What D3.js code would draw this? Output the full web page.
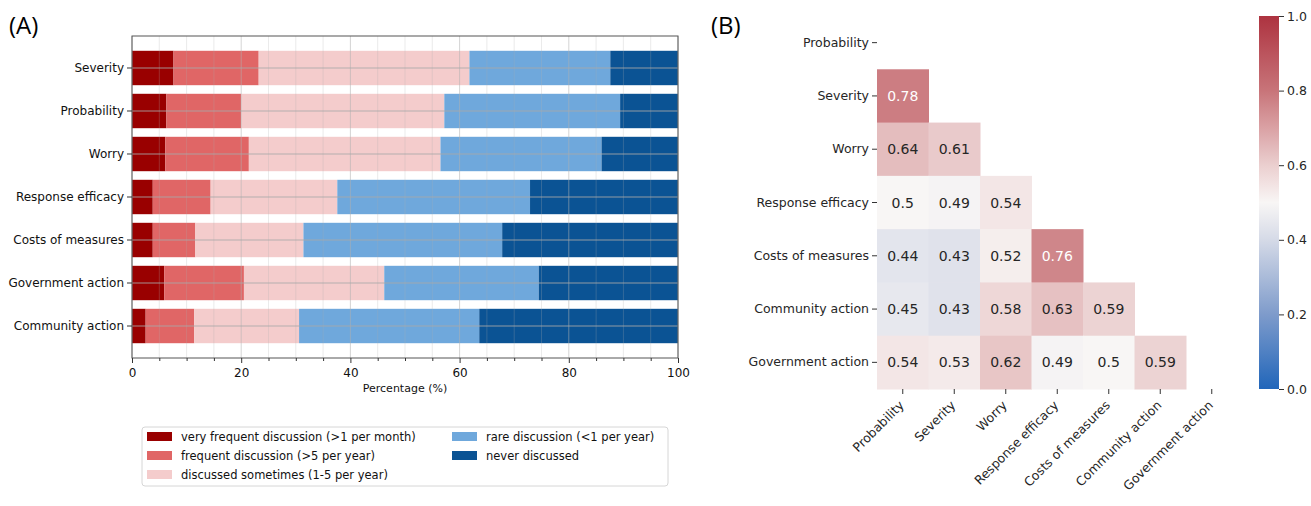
<!DOCTYPE html>
<html>
<head>
<meta charset="utf-8">
<script src="https://cdn.jsdelivr.net/npm/d3@7"></script>
<style>
  body { margin: 0; background: #fff; }
  svg { display: block; font-family: "DejaVu Sans", sans-serif; }
</style>
</head>
<body>
<svg id="chart" width="1311" height="506"></svg>
<script>
// ---- data: panel A (stacked shares, % of respondents)
let barCategories = ['Severity', 'Probability', 'Worry', 'Response efficacy', 'Costs of measures', 'Government action', 'Community action']
let veryFrequent = [7.6, 6.3, 6.1, 3.8, 3.8, 5.9, 2.5]
let frequent     = [15.6, 13.7, 15.3, 10.6, 7.8, 14.6, 8.9]
let sometimes    = [38.6, 37.2, 35.1, 23.2, 19.8, 25.7, 19.2]
let rare         = [25.8, 32.2, 29.5, 35.3, 36.4, 28.3, 33.0]
let never        = [12.4, 10.6, 14.0, 27.1, 32.2, 25.5, 36.4]
let seriesNames = [
    'very frequent discussion (>1 per month)',
    'frequent discussion (>5 per year)',
    'discussed sometimes (1-5 per year)',
    'rare discussion (<1 per year)',
    'never discussed'
]
let seriesColors = ['#990000', '#e06666', '#f4cccc', '#6fa8dc', '#0b5394']
let xTicks = [0, 20, 40, 60, 80, 100]

// ---- data: panel B (lower-triangle correlations)
let corrVars = ['Probability', 'Severity', 'Worry', 'Response efficacy', 'Costs of measures', 'Community action', 'Government action']
let corrRows = [
    [],
    [0.78],
    [0.64, 0.61],
    [0.5, 0.49, 0.54],
    [0.44, 0.43, 0.52, 0.76],
    [0.45, 0.43, 0.58, 0.63, 0.59],
    [0.54, 0.53, 0.62, 0.49, 0.5, 0.59]
]
let cbarTicks = [0, 0.2, 0.4, 0.6, 0.8, 1.0]

let svg = d3.select('#chart')

// ================= Panel A =================
let keys = ['vf', 'f', 's', 'r', 'n']
let table = barCategories.map((c, i) => ({
    cat: c, vf: veryFrequent[i], f: frequent[i], s: sometimes[i], r: rare[i], n: never[i]
}))
let stacked = d3.stack().keys(keys)(table)

let x = d3.scaleLinear().domain([0, 100]).range([132, 678])
let y = d3.scaleBand().domain(barCategories).range([36, 358]).paddingInner(0.2).paddingOuter(0.344)

svg.append('text').attr('x', 9).attr('y', 34).attr('font-size', 24).attr('font-family', 'Open Sans, sans-serif').text('(A)')

let gA = svg.append('g')

gA.selectAll('g.series')
    .data(stacked)
    .enter()
    .append('g')
    .attr('fill', (d, i) => seriesColors[i])
    .selectAll('rect')
    .data(d => d)
    .enter()
    .append('rect')
    .attr('x', d => x(d[0]))
    .attr('width', d => x(d[1]) - x(d[0]))
    .attr('y', d => y(d.data.cat))
    .attr('height', y.bandwidth())

// grid drawn over the bars, like the original
let minor = d3.range(0, 101, 5).filter(v => v % 20 !== 0)
gA.selectAll('line.minor')
    .data(minor).enter().append('line')
    .attr('x1', d => x(d)).attr('x2', d => x(d))
    .attr('y1', 36).attr('y2', 358)
    .attr('stroke', '#b0b0b0').attr('stroke-opacity', 0.25).attr('stroke-width', 1)
gA.selectAll('line.major')
    .data(xTicks).enter().append('line')
    .attr('x1', d => x(d)).attr('x2', d => x(d))
    .attr('y1', 36).attr('y2', 358)
    .attr('stroke', '#b0b0b0').attr('stroke-opacity', 0.55).attr('stroke-width', 1)
gA.selectAll('line.hgrid')
    .data(barCategories).enter().append('line')
    .attr('x1', 132).attr('x2', 678)
    .attr('y1', d => y(d) + y.bandwidth() / 2).attr('y2', d => y(d) + y.bandwidth() / 2)
    .attr('stroke', '#a8a8a8').attr('stroke-opacity', 0.85).attr('stroke-width', 1.2)

// frame
gA.append('rect').attr('x', 132).attr('y', 36).attr('width', 546).attr('height', 322)
    .attr('fill', 'none').attr('stroke', '#555').attr('stroke-width', 1)

let xAxis = gA.append('g').attr('transform', 'translate(0,358)')
    .call(d3.axisBottom(x).tickValues(xTicks).tickSize(5).tickPadding(5))
xAxis.select('.domain').remove()
xAxis.selectAll('text').attr('font-size', 12).attr('fill', '#111').attr('font-family', 'DejaVu Sans, sans-serif')
xAxis.selectAll('line').attr('stroke', '#333')
gA.append('g').attr('transform', 'translate(0,358)')
    .call(d3.axisBottom(x).tickValues(minor).tickSize(3).tickFormat(''))
    .call(g => g.select('.domain').remove())
    .selectAll('line').attr('stroke', '#333')

gA.append('text').attr('x', 405).attr('y', 392).attr('text-anchor', 'middle')
    .attr('font-size', 11).attr('fill', '#111').text('Percentage (%)')

let yAxis = gA.append('g').attr('transform', 'translate(132,0)')
    .call(d3.axisLeft(y).tickSize(5).tickPadding(3))
yAxis.select('.domain').remove()
yAxis.selectAll('text').attr('font-size', 12).attr('fill', '#111').attr('font-family', 'DejaVu Sans, sans-serif')
yAxis.selectAll('line').attr('stroke', '#333')

// legend
let lg = gA.append('g')
lg.append('rect').attr('x', 142).attr('y', 427).attr('width', 526).attr('height', 59)
    .attr('rx', 3).attr('fill', '#fff').attr('stroke', '#d6d6d6')
let legPos = [[147, 437], [147, 456], [147, 475], [452, 437], [452, 456]]
seriesNames.forEach((name, i) => {
    let [lx, ly] = legPos[i]
    lg.append('rect').attr('x', lx).attr('y', ly - 5).attr('width', 25).attr('height', 9).attr('fill', seriesColors[i])
    lg.append('text').attr('x', lx + 34).attr('y', ly + 4).attr('font-size', 11.5).attr('fill', '#111').text(name)
})

// ================= Panel B =================
svg.append('text').attr('x', 711).attr('y', 34).attr('font-size', 24).attr('font-family', 'Open Sans, sans-serif').text('(B)')

let hx = d3.scaleBand().domain(corrVars).range([877, 877 + 7 * 51.5])
let hy = d3.scaleBand().domain(corrVars).range([16, 389])

let color = d3.scaleLinear()
    .domain([0, 0.2, 0.4, 0.5, 0.6, 0.8, 1.0])
    .range(['#2166ba', '#7e9bcb', '#d5dae7', '#f8f6f5', '#ebcfcf', '#c87479', '#ad3340'])
    .interpolate(d3.interpolateRgb)

let cells = []
corrRows.forEach((row, i) => row.forEach((v, j) => cells.push({ r: corrVars[i], c: corrVars[j], v: v })))

let gB = svg.append('g')
gB.selectAll('rect.cell')
    .data(cells).enter().append('rect')
    .attr('x', d => hx(d.c)).attr('y', d => hy(d.r))
    .attr('width', hx.bandwidth() + 0.5).attr('height', hy.bandwidth() + 0.5)
    .attr('fill', d => color(d.v))
gB.selectAll('text.val')
    .data(cells).enter().append('text')
    .attr('x', d => hx(d.c) + hx.bandwidth() / 2)
    .attr('y', d => hy(d.r) + hy.bandwidth() / 2)
    .attr('dy', '0.36em').attr('text-anchor', 'middle')
    .attr('font-size', 14)
    .attr('fill', d => d.v >= 0.7 ? '#fff' : '#262626')
    .text(d => d3.format('')(d.v))

let hyAxis = gB.append('g').attr('transform', 'translate(877,0)')
    .call(d3.axisLeft(hy).tickSize(5).tickPadding(3))
hyAxis.select('.domain').remove()
hyAxis.selectAll('text').attr('font-size', 12.5).attr('fill', '#262626').attr('font-family', 'DejaVu Sans, sans-serif')
hyAxis.selectAll('line').attr('stroke', '#333')

let hxAxis = gB.append('g').attr('transform', 'translate(0,389)')
    .call(d3.axisBottom(hx).tickSize(5).tickPadding(3))
hxAxis.select('.domain').remove()
hxAxis.selectAll('line').attr('stroke', '#333')
hxAxis.selectAll('text')
    .attr('font-size', 12.5).attr('fill', '#262626').attr('font-family', 'DejaVu Sans, sans-serif')
    .attr('text-anchor', 'end')
    .attr('x', 0).attr('y', 0).attr('dy', 0)
    .attr('transform', 'translate(2,17) rotate(-45)')

// colorbar
let cb = d3.scaleLinear().domain([0, 1]).range([389, 16])
let defs = svg.append('defs')
let grad = defs.append('linearGradient').attr('id', 'cbgrad')
    .attr('x1', 0).attr('y1', 1).attr('x2', 0).attr('y2', 0)
d3.range(0, 1.0001, 0.05).forEach(t => {
    grad.append('stop').attr('offset', t).attr('stop-color', color(t))
})
svg.append('rect').attr('x', 1259).attr('y', 16).attr('width', 20).attr('height', 373)
    .attr('fill', 'url(#cbgrad)')
let cbAxis = svg.append('g').attr('transform', 'translate(1279,0)')
    .call(d3.axisRight(cb).tickValues(cbarTicks).tickFormat(d3.format('.1f')).tickSize(5).tickPadding(3))
cbAxis.select('.domain').remove()
cbAxis.selectAll('text').attr('font-size', 12.5).attr('fill', '#262626').attr('font-family', 'DejaVu Sans, sans-serif')
cbAxis.selectAll('line').attr('stroke', '#333')
</script>
</body>
</html>
